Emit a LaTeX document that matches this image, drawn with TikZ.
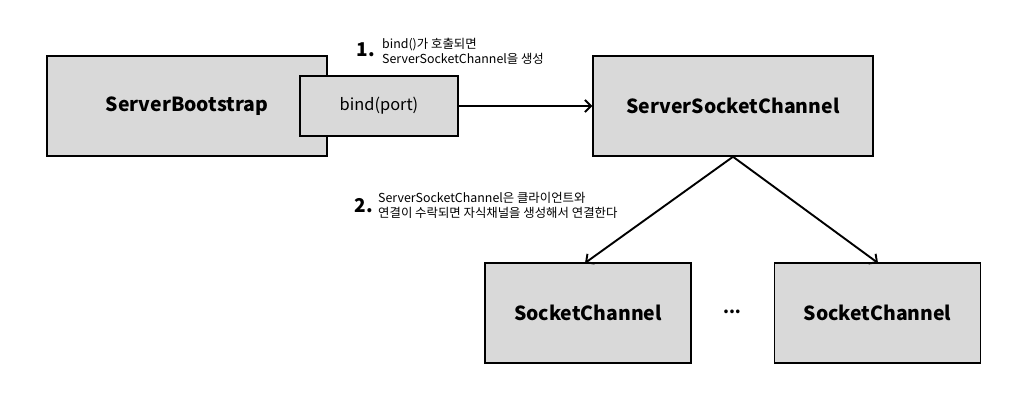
\documentclass[tikz,border=0pt]{standalone}
\usepackage{fontspec}
\setmainfont{Noto Sans CJK KR}
\usetikzlibrary{arrows.meta}
\definecolor{boxgray}{HTML}{D9D9D9}
\tikzset{
  box/.style={draw=black, fill=boxgray, line width=1.5pt, minimum width=280pt, minimum height=100pt, inner sep=0pt, font=\fontsize{19.4}{21}\selectfont\bfseries},
  smallbox/.style={draw=black, fill=boxgray, line width=1.5pt, minimum width=206pt, minimum height=100pt, inner sep=0pt, font=\fontsize{19.4}{21}\selectfont\bfseries},
  bindbox/.style={draw=black, fill=boxgray, line width=1.5pt, minimum width=158pt, minimum height=60pt, inner sep=0pt, font=\fontsize{16.4}{18}\selectfont},
  conn/.style={line width=1.9pt, -{Straight Barb[length=6pt,width=12pt,line width=1.9pt]}},
  note/.style={align=left, anchor=west, inner sep=0pt, font=\fontsize{12.4}{15}\selectfont},
  num/.style={anchor=east, inner sep=0pt, font=\fontsize{19}{20}\selectfont\bfseries}
}
\begin{document}
\begin{tikzpicture}[x=1pt,y=-1pt]
\useasboundingbox (0,0) rectangle (1028,400);
\node[box] (boot) at (187,106) {ServerBootstrap};
\node[bindbox] (bind) at (379,106) {bind(port)};
\node[box] (ssc) at (733,106) {ServerSocketChannel};
\node[smallbox] (sc1) at (588,313) {SocketChannel};
\node[smallbox] (sc2) at (877.5,313) {SocketChannel};
\node[inner sep=0pt, font=\fontsize{17}{18}\selectfont\bfseries] (dots) at (732,312) {...};
\coordinate (a1) at (585,263);
\coordinate (a2) at (878,263);
\draw[conn] (bind.east) -- (ssc.west);
\draw[conn] (ssc.south) -- (a1);
\draw[conn] (ssc.south) -- (a2);
\node[num] (n1) at (375,50) {1.};
\node[note] (t1) at (382,51) {bind()가 호출되면\\ServerSocketChannel을 생성};
\node[num] (n2) at (373,206) {2.};
\node[note] (t2) at (378,205) {ServerSocketChannel은 클라이언트와\\연결이 수락되면 자식채널을 생성해서 연결한다};
\end{tikzpicture}
\end{document}
